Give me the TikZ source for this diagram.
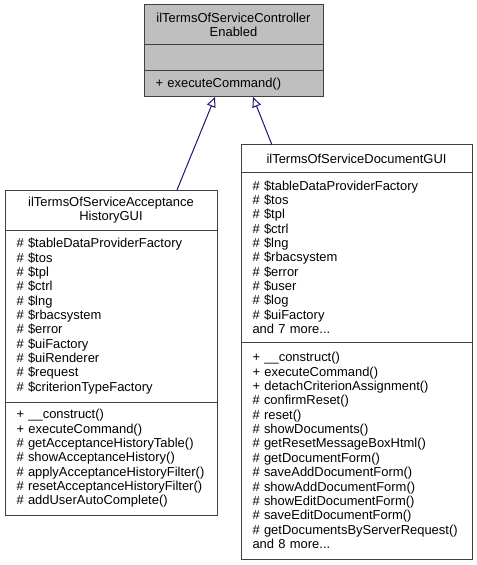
\documentclass[tikz,border=0pt]{standalone}
\usepackage{fontspec}
\setmainfont{Liberation Sans}
\usetikzlibrary{positioning,arrows.meta}
\definecolor{boxgray}{HTML}{BFBFBF}
\definecolor{boxline}{HTML}{404040}
\definecolor{edgeblue}{HTML}{191970}
\begin{document}
\begin{tikzpicture}[x=1bp, y=-1bp,
    part/.style = {draw = boxline, rectangle, line width = 1bp, outer sep = 0pt,
                   inner xsep = 11.5bp, inner ysep = 0pt, align = left,
                   font = \fontsize{13}{14.4}\selectfont},
    base/.style = {part, fill = boxgray, text width = 156bp},
    leftpart/.style = {part, text width = 189bp},
    rightpart/.style = {part, text width = 208bp},
    inherit/.style = {draw = edgeblue, line width = 1bp,
                      -{Triangle[open, length = 10bp, width = 9bp, fill = white]}}]
    % \draw [help lines] (0,0) grid [step=10] (477,565);
    \useasboundingbox (0,0) rectangle (477,565);

    % base class
    \node [base, align = center, minimum height = 40bp, anchor = north west] (ctrl) at (144,5)
        {ilTermsOfServiceController\\Enabled};
    \node [base, minimum height = 26bp, below = 0pt of ctrl] (ctrlattr) {};
    \node [base, minimum height = 26bp, below = 0pt of ctrlattr] (ctrlops) {+ executeCommand()};

    % acceptance history gui
    \node [leftpart, align = center, minimum height = 40bp, anchor = north west] (accept) at (5,190)
        {ilTermsOfServiceAcceptance\\HistoryGUI};
    \node [leftpart, minimum height = 172bp, below = 0pt of accept] (acceptattr)
        {\# \$tableDataProviderFactory\\\# \$tos\\\# \$tpl\\\# \$ctrl\\\# \$lng\\\# \$rbacsystem\\
         \# \$error\\\# \$uiFactory\\\# \$uiRenderer\\\# \$request\\\# \$criterionTypeFactory};
    \node [leftpart, minimum height = 113bp, below = 0pt of acceptattr] (acceptops)
        {+ \_\_construct()\\+ executeCommand()\\\# getAcceptanceHistoryTable()\\\# showAcceptanceHistory()\\
         \# applyAcceptanceHistoryFilter()\\\# resetAcceptanceHistoryFilter()\\\# addUserAutoComplete()};

    % document gui
    \node [rightpart, align = center, minimum height = 27bp, anchor = north west] (docgui) at (241,145)
        {ilTermsOfServiceDocumentGUI};
    \node [rightpart, minimum height = 170bp, below = 0pt of docgui] (docattr)
        {\# \$tableDataProviderFactory\\\# \$tos\\\# \$tpl\\\# \$ctrl\\\# \$lng\\\# \$rbacsystem\\
         \# \$error\\\# \$user\\\# \$log\\\# \$uiFactory\\and 7 more...};
    \node [rightpart, minimum height = 217bp, below = 0pt of docattr] (docops)
        {+ \_\_construct()\\+ executeCommand()\\+ detachCriterionAssignment()\\\# confirmReset()\\
         \# reset()\\\# showDocuments()\\\# getResetMessageBoxHtml()\\\# getDocumentForm()\\
         \# saveAddDocumentForm()\\\# showAddDocumentForm()\\\# showEditDocumentForm()\\
         \# saveEditDocumentForm()\\\# getDocumentsByServerRequest()\\and 8 more...};

    \draw [inherit] ([xshift = 172bp]accept.north west) -- ([xshift = 71bp]ctrlops.south west);
    \draw [inherit] ([xshift = 31bp]docgui.north west) -- ([xshift = 109bp]ctrlops.south west);
\end{tikzpicture}
\end{document}
